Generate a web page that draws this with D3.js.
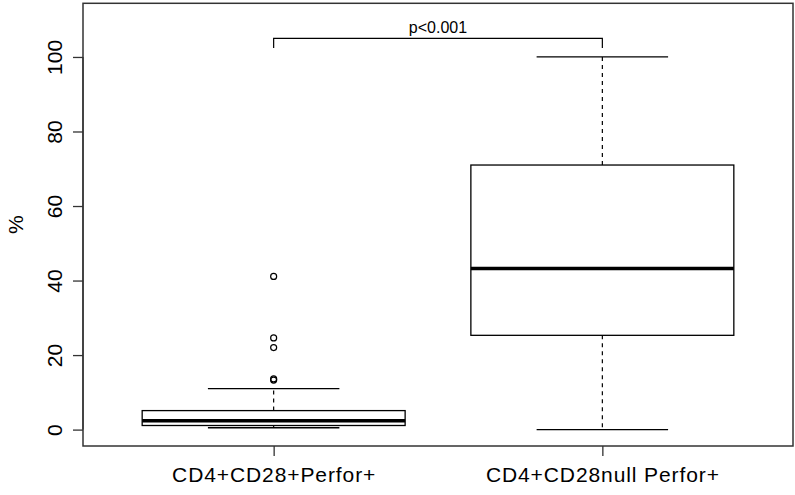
<!DOCTYPE html>
<html>
<head>
<meta charset="utf-8">
<script src="https://cdn.jsdelivr.net/npm/d3@7"></script>
<style>
  html, body { margin: 0; padding: 0; background: #fff; }
  svg { display: block; font-family: "Liberation Sans", Arial, Helvetica, sans-serif; }
</style>
</head>
<body>
<svg id="chart" width="795" height="495"></svg>
<script>
// ---- data ----
const categories = ["CD4+CD28+Perfor+", "CD4+CD28null Perfor+"];
const whiskerLow  = [0.5, 0];
const q1          = [1.1, 25.3];
const medians     = [2.4, 43.2];
const q3          = [5.1, 71.0];
const whiskerHigh = [11.0, 100];
const outliers    = [[41.1, 24.6, 22.0, 13.6, 13.3], []];
const yTicks      = [0, 20, 40, 60, 80, 100];
const yLabel      = "%";
const pLabel      = "p<0.001";
const bracketTop  = 105;
const bracketEnd  = 102.4;

// ---- layout ----
const svg = d3.select("#chart");
const pL = 83, pR = 793, pT = 3.3, pB = 446;
const x = d3.scaleLinear().domain([0.42, 2.58]).range([pL, pR]);
const y = d3.scaleLinear().domain([-4.4, 114.4]).range([pB, pT]);
const boxW = 0.8, capW = 0.4;

const g = svg.append("g");

// boxes
categories.forEach((c, i) => {
  const cx = i + 1;
  // dashed whiskers
  g.append("line")
    .attr("x1", x(cx)).attr("x2", x(cx))
    .attr("y1", y(q3[i])).attr("y2", y(whiskerHigh[i]))
    .attr("stroke", "#000").attr("stroke-width", 1.2).attr("stroke-dasharray", "4,4");
  g.append("line")
    .attr("x1", x(cx)).attr("x2", x(cx))
    .attr("y1", y(q1[i])).attr("y2", y(whiskerLow[i]))
    .attr("stroke", "#000").attr("stroke-width", 1.2).attr("stroke-dasharray", "4,4");
  // whisker caps
  [whiskerHigh[i], whiskerLow[i]].forEach(v => {
    g.append("line")
      .attr("x1", x(cx - capW / 2)).attr("x2", x(cx + capW / 2))
      .attr("y1", y(v)).attr("y2", y(v))
      .attr("stroke", "#000").attr("stroke-width", 1.3);
  });
  // box
  g.append("rect")
    .attr("x", x(cx - boxW / 2)).attr("width", x(cx + boxW / 2) - x(cx - boxW / 2))
    .attr("y", y(q3[i])).attr("height", y(q1[i]) - y(q3[i]))
    .attr("fill", "none").attr("stroke", "#000").attr("stroke-width", 1.3);
  // median
  g.append("line")
    .attr("x1", x(cx - boxW / 2)).attr("x2", x(cx + boxW / 2))
    .attr("y1", y(medians[i])).attr("y2", y(medians[i]))
    .attr("stroke", "#000").attr("stroke-width", 3.5);
  // outliers
  g.selectAll(null).data(outliers[i]).enter().append("circle")
    .attr("cx", x(cx)).attr("cy", d => y(d)).attr("r", 3)
    .attr("fill", "none").attr("stroke", "#000").attr("stroke-width", 1.2);
});

// significance bracket
g.append("path")
  .attr("d", `M${x(1)},${y(bracketEnd)}V${y(bracketTop)}H${x(2)}V${y(bracketEnd)}`)
  .attr("fill", "none").attr("stroke", "#000").attr("stroke-width", 1.2);
g.append("text")
  .attr("x", (x(1) + x(2)) / 2).attr("y", y(bracketTop) - 5)
  .attr("text-anchor", "middle").attr("font-size", 16)
  .text(pLabel);

// frame
svg.append("rect")
  .attr("x", pL).attr("y", pT)
  .attr("width", pR - pL).attr("height", pB - pT)
  .attr("fill", "none").attr("stroke", "#333").attr("stroke-width", 1.5);

// y axis
const yAxis = svg.append("g")
  .attr("transform", `translate(${pL},0)`)
  .call(d3.axisLeft(y).tickValues(yTicks).tickSize(10).tickFormat(d3.format("d")));
yAxis.select(".domain").attr("d", `M0,${y(0)}V${y(100)}`).attr("stroke", "#333").attr("stroke-width", 1.3);
yAxis.selectAll(".tick line").attr("stroke", "#333").attr("stroke-width", 1.3);
yAxis.selectAll(".tick text")
  .attr("transform", "rotate(-90)")
  .attr("x", 0).attr("y", -21).attr("dy", 0)
  .attr("text-anchor", "middle")
  .attr("font-size", 21).attr("fill", "#000")
  .attr("font-family", "Liberation Sans, Arial, sans-serif");

// x axis
const xAxis = svg.append("g")
  .attr("transform", `translate(0,${pB})`)
  .call(d3.axisBottom(x).tickValues([1, 2]).tickSize(10).tickFormat(d => categories[d - 1]));
xAxis.select(".domain").remove();
xAxis.selectAll(".tick line").attr("stroke", "#333").attr("stroke-width", 1.3);
xAxis.selectAll(".tick text")
  .attr("y", 36).attr("dy", 0)
  .attr("font-size", 21).attr("fill", "#000")
  .attr("letter-spacing", "0.9px")
  .attr("font-family", "Liberation Sans, Arial, sans-serif");

// y label
svg.append("text")
  .attr("transform", `translate(23,${(pT + pB) / 2}) rotate(-90)`)
  .attr("text-anchor", "middle").attr("font-size", 21)
  .text(yLabel);
</script>
</body>
</html>
